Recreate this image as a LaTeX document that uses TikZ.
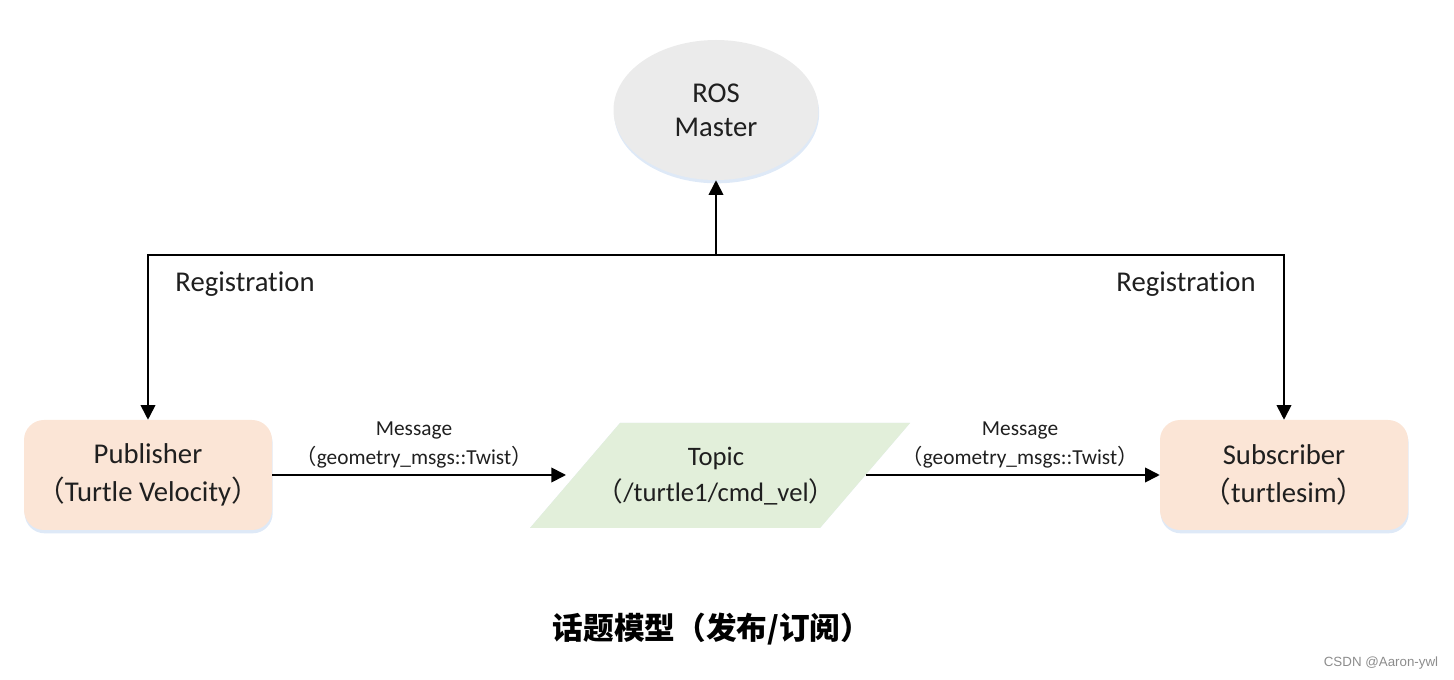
\documentclass[tikz,border=0pt]{standalone}
\usepackage{fontspec}
\setmainfont{Carlito}[Ligatures=NoCommon]
\newfontfamily\cjk{Noto Sans CJK SC}
\newfontfamily\arialf{Liberation Sans}
\usetikzlibrary{shapes.geometric,arrows.meta,shadows}
\definecolor{mastergray}{HTML}{EBEBEB}
\definecolor{peach}{HTML}{FBE5D6}
\definecolor{topicgreen}{HTML}{E2EFDA}
\definecolor{glow}{HTML}{D6E4F5}
\newcommand{\lp}{{\cjk （}}
\newcommand{\rp}{{\cjk ）}}
\tikzset{
  arr/.style={line width=1.3pt,-{Triangle[length=11pt,width=11pt]}},
  bigtext/.style={font=\fontsize{21.5}{28.5}\selectfont,align=center,text=black!88},
  smalltext/.style={font=\fontsize{16}{21.75}\selectfont,align=center,text=black!88},
  roundbox/.style={draw=none,fill=peach,rounded corners=15pt,minimum width=186pt,minimum height=82.5pt,
     drop shadow={shadow xshift=0.5pt,shadow yshift=-2.5pt,fill=glow,opacity=0.8}},
}
\begin{document}
\begin{tikzpicture}[x=0.75pt,y=-0.75pt]
\useasboundingbox (0,0) rectangle (1454,680);
% master
\node[ellipse,fill=mastergray,minimum width=153.75pt,minimum height=105pt,
  drop shadow={shadow xshift=0.5pt,shadow yshift=-2.5pt,fill=glow,opacity=0.8},
  bigtext,font=\fontsize{21.5}{25.5}\selectfont] (master) at (716,110) {ROS\\Master};
% boxes
\node[roundbox,bigtext] (pub) at (148,475) {Publisher\\\lp Turtle Velocity\rp};
\node[roundbox,bigtext] (sub) at (1284,475) {Subscriber\\\lp turtlesim\rp};
% topic parallelogram
\coordinate (tbl) at (530,528);
\coordinate (tbr) at (820,528);
\coordinate (ttr) at (910,423);
\coordinate (ttl) at (620,423);
\fill[glow,opacity=0.8,yshift=-2.5pt,xshift=0.5pt] (tbl) -- (tbr) -- (ttr) -- (ttl) -- cycle;
\fill[topicgreen] (tbl) -- (tbr) -- (ttr) -- (ttl) -- cycle;
\node[bigtext,font=\fontsize{20}{27.5}\selectfont] (topic) at (716,476) {Topic\\\lp /turtle1/cmd\_vel\rp};
\coordinate (tw) at (566,475);
\coordinate (te) at (866,475);
% registration connectors
\coordinate (junc) at (716,255);
\draw[arr] (junc) -- (master.south);
\draw[arr] (junc) -| (pub.north);
\draw[arr] (junc) -| (sub.north);
\node[bigtext] (regl) at (245,284) {Registration};
\node[bigtext] (regr) at (1186,284) {Registration};
% message connectors
\draw[arr] (pub.east) -- (tw);
\draw[arr] (te) -- (sub.west);
\node[smalltext] (msgl) at (414,445) {Message\\\lp geometry\_msgs::Twist\rp};
\node[smalltext] (msgr) at (1020,445) {Message\\\lp geometry\_msgs::Twist\rp};
% caption
\node[font=\fontsize{23}{28}\selectfont\cjk\bfseries] (cap) at (712,629) {话题模型（发布/订阅）};
\node[font=\fontsize{10}{12}\selectfont\arialf,text=black!45] (wm) at (1381,663) {CSDN @Aaron-ywl};
\end{tikzpicture}
\end{document}
